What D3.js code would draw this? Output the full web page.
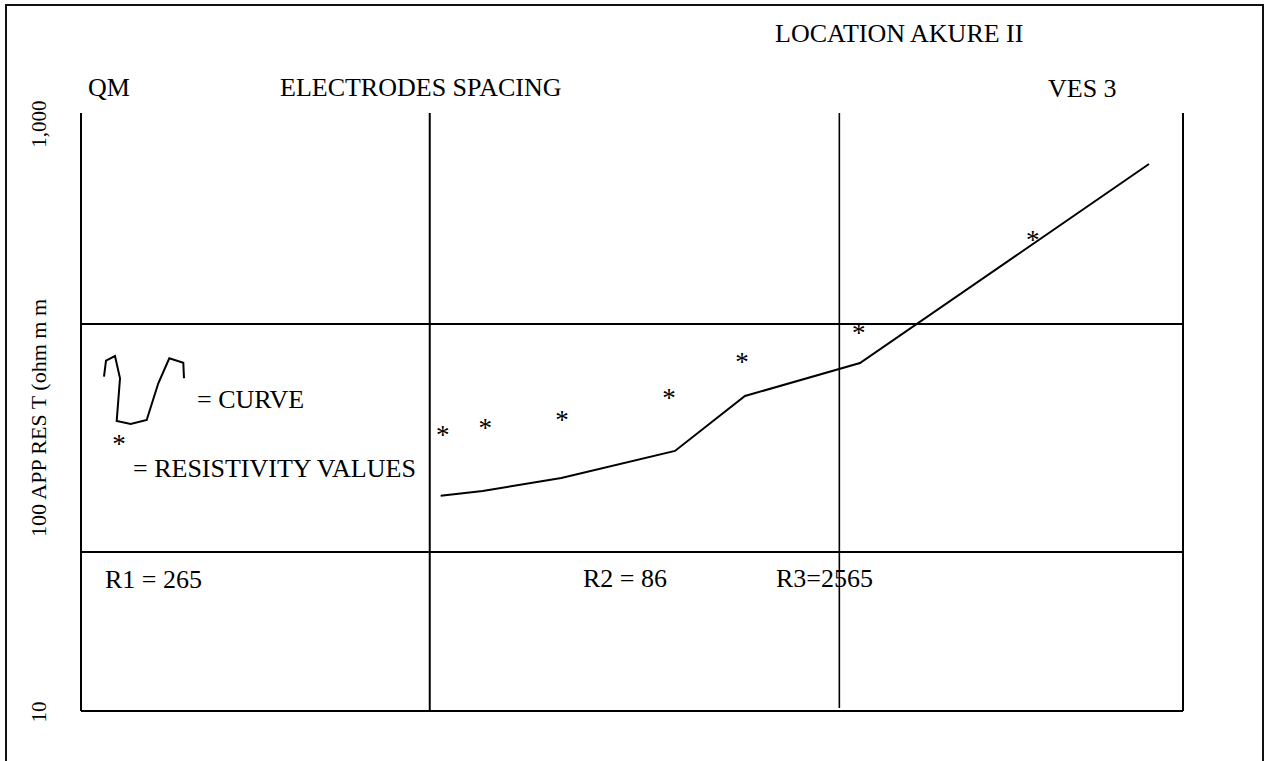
<!DOCTYPE html>
<html>
<head>
<meta charset="utf-8">
<script src="https://cdn.jsdelivr.net/npm/d3@7"></script>
<style>
  body { margin: 0; background: #fff; }
  text { font-family: "Liberation Serif", "Times New Roman", serif; fill: #000; }
</style>
</head>
<body>
<div id="chart"></div>
<script>
// VES 3 sounding
const spacing = [9.65, 12.6, 20.4, 39.9, 63, 131, 390];          // electrode spacing of the field points
const resistivity = [86.4, 91.2, 97, 115.7, 152.7, 189.5, 388];  // apparent resistivity (ohm m)
const curveSpacing = [9.53, 12.4, 20.3, 41.4, 64.2, 132, 808];
const curveRes = [52.5, 54.4, 60.2, 74.1, 113.1, 145.8, 675];

const gridX = [1, 8.9, 116, 1000];   // vertical rules
const gridY = [10, 34, 197];         // horizontal rules
const yTicks = [10, 1000];

const width = 1266, height = 761;

const svg = d3.select("#chart")
    .append("svg")
    .attr("width", width)
    .attr("height", height);

svg.append("rect")
    .attr("width", width).attr("height", height)
    .attr("fill", "#fff");

// page frame
svg.append("rect")
    .attr("x", 6).attr("y", 5)
    .attr("width", 1257).attr("height", 800)
    .attr("fill", "none")
    .attr("stroke", "#111")
    .attr("stroke-width", 2);

const xScale = d3.scaleLog().domain([1, 1000]).range([81, 1183]);
const yScale = d3.scaleLog().domain([10, 1000]).range([711, 113]);

// grid
svg.selectAll(".vline")
    .data(gridX)
    .enter().append("line")
    .attr("x1", d => xScale(d)).attr("x2", d => xScale(d))
    .attr("y1", yScale(1000))
    .attr("y2", (d, i) => i === 2 ? yScale(10) - 3 : yScale(10))
    .attr("stroke", "#000")
    .attr("stroke-width", (d, i) => i === 2 ? 1.6 : 2);

svg.selectAll(".hline")
    .data(gridY)
    .enter().append("line")
    .attr("x1", xScale(1)).attr("x2", xScale(1000))
    .attr("y1", d => yScale(d)).attr("y2", d => yScale(d))
    .attr("stroke", "#000")
    .attr("stroke-width", 2);

// y tick labels, rotated
svg.selectAll(".ytick")
    .data(yTicks)
    .enter().append("text")
    .attr("transform", d => `translate(46, ${yScale(d) + (d === 1000 ? 11 : 1)}) rotate(-90)`)
    .attr("text-anchor", "middle")
    .attr("font-size", 21)
    .text(d => d3.format(",")(d));

svg.append("text")
    .attr("transform", "translate(46, 418) rotate(-90)")
    .attr("text-anchor", "middle")
    .attr("font-size", 22)
    .text("100 APP RES T (ohm m m");

// headings
const heads = [
    { t: "LOCATION AKURE II", x: 775, y: 42 },
    { t: "QM", x: 88, y: 96 },
    { t: "ELECTRODES SPACING", x: 280, y: 96 },
    { t: "VES 3", x: 1048, y: 97 },
    { t: "R1 = 265", x: 105, y: 588 },
    { t: "R2 = 86", x: 583, y: 587 },
    { t: "R3=2565", x: 776, y: 587 }
];
svg.selectAll(".head")
    .data(heads)
    .enter().append("text")
    .attr("x", d => d.x).attr("y", d => d.y)
    .attr("font-size", 26)
    .text(d => d.t);

// model curve
const line = d3.line()
    .x((d, i) => xScale(curveSpacing[i]))
    .y(d => yScale(d));

svg.append("path")
    .datum(curveRes)
    .attr("d", line)
    .attr("fill", "none")
    .attr("stroke", "#000")
    .attr("stroke-width", 2);

// field values
svg.selectAll(".pt")
    .data(resistivity)
    .enter().append("text")
    .attr("x", (d, i) => xScale(spacing[i]))
    .attr("y", d => yScale(d))
    .attr("dy", "0.5em")
    .attr("text-anchor", "middle")
    .attr("font-size", 27)
    .text("*");

// legend
const legendIcon = [[0, 20.7], [2, 4.7], [11, 0], [16, 22.3], [12.7, 65], [26.7, 68],
    [42.7, 64], [54.3, 27.3], [65.3, 2.3], [79.3, 6.7], [80, 22.3]];
const legend = svg.append("g").attr("transform", "translate(104, 356)");
legend.append("path")
    .attr("d", d3.line()(legendIcon))
    .attr("fill", "none")
    .attr("stroke", "#000")
    .attr("stroke-width", 2);
legend.append("text")
    .attr("x", 93).attr("y", 52)
    .attr("font-size", 26)
    .text("= CURVE");
legend.append("text")
    .attr("x", 15).attr("y", 83)
    .attr("dy", "0.5em")
    .attr("text-anchor", "middle")
    .attr("font-size", 27)
    .text("*");
legend.append("text")
    .attr("x", 29).attr("y", 121)
    .attr("font-size", 26)
    .text("= RESISTIVITY VALUES");
</script>
</body>
</html>
